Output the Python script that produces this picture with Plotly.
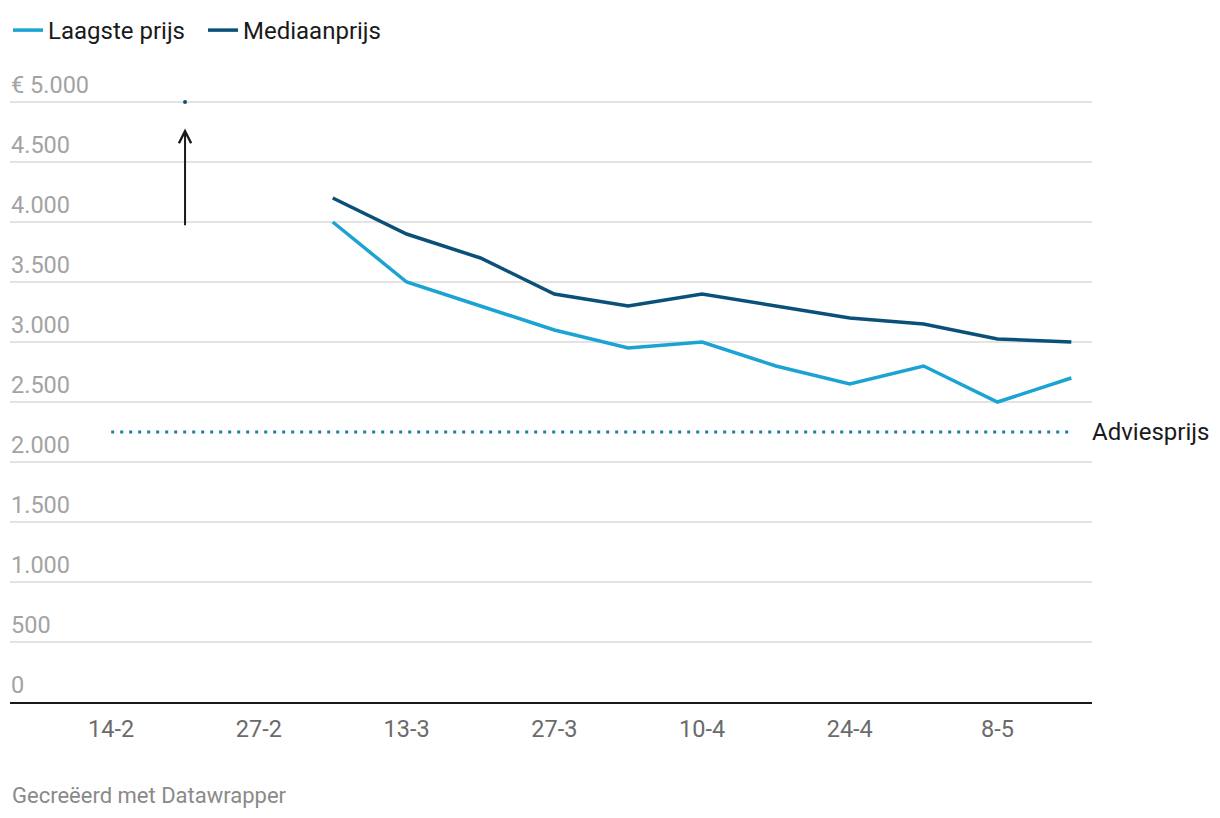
import plotly.graph_objects as go

# ---- data ----
weeks = ["14-2", "21-2", "27-2", "6-3", "13-3", "20-3", "27-3", "3-4",
         "10-4", "17-4", "24-4", "1-5", "8-5", "15-5"]
tick_weeks = ["14-2", "27-2", "13-3", "27-3", "10-4", "24-4", "8-5"]
laagste_prijs = [None, None, None, 4000, 3500, 3300, 3100, 2950, 3000, 2800, 2650, 2800, 2500, 2700]
mediaanprijs = [None, None, None, 4200, 3900, 3700, 3400, 3300, 3400, 3300, 3200, 3150, 3025, 3000]
offscale_week = ["21-2"]
offscale_median = [5000]
adviesprijs = 2250
arrow_from, arrow_to = 3960, 4780
y_ticks = [0, 500, 1000, 1500, 2000, 2500, 3000, 3500, 4000, 4500, 5000]
y_ticktext = ["0", "500", "1.000", "1.500", "2.000", "2.500", "3.000", "3.500", "4.000", "4.500", "€ 5.000"]

LIGHT = "#1ba3d3"
DARK = "#0a5079"
ADV = "#1a7fa8"
FONT = "Roboto"

fig = go.Figure()
fig.add_trace(go.Scatter(x=weeks, y=[adviesprijs] * len(weeks), mode="lines",
                         line=dict(color=ADV, width=3, dash="3px,6px"),
                         showlegend=False, hoverinfo="skip"))
fig.add_trace(go.Scatter(x=weeks, y=laagste_prijs, mode="lines", name="Laagste prijs",
                         line=dict(color=LIGHT, width=3.5)))
fig.add_trace(go.Scatter(x=weeks, y=mediaanprijs, mode="lines", name="Mediaanprijs",
                         line=dict(color=DARK, width=3.5)))
fig.add_trace(go.Scatter(x=offscale_week, y=offscale_median, mode="markers",
                         marker=dict(color=DARK, size=4), showlegend=False, cliponaxis=False))

fig.add_annotation(x=offscale_week[0], y=arrow_to, ax=offscale_week[0], ay=arrow_from,
                   xref="x", yref="y", axref="x", ayref="y", text="", showarrow=True,
                   arrowhead=5, arrowsize=1.2, arrowwidth=2, arrowcolor="#1a1a1a")
fig.add_annotation(x=1, y=adviesprijs, xref="paper", yref="y", text="Adviesprijs",
                   showarrow=False, xanchor="left", xshift=-2,
                   font=dict(family=FONT, size=24, color="#1a1a1a"))

# plot area: page x 10..1092, y 62..702 (page has an 8px body margin)
PLOT_TOP, PLOT_BOTTOM = 62, 702
Y_TOP = (PLOT_BOTTOM - PLOT_TOP) / 0.12
fig.add_annotation(x=0, y=-(795 - PLOT_BOTTOM) / (PLOT_BOTTOM - PLOT_TOP), xref="paper", yref="paper",
                   text="Gecreëerd met Datawrapper",
                   showarrow=False, xanchor="left", yanchor="middle",
                   font=dict(family=FONT, size=22, color="#8a8a8a"))

fig.update_layout(
    width=1212, height=810,
    margin=dict(l=2, r=128, t=PLOT_TOP - 8, b=116, autoexpand=False),
    paper_bgcolor="white", plot_bgcolor="white",
    font=dict(family=FONT, size=24, color="#1a1a1a"),
    showlegend=True,
    legend=dict(orientation="h", x=0, xref="container", xanchor="left",
                y=1, yref="container", yanchor="top",
                font=dict(family=FONT, size=24, color="#1a1a1a"),
                bgcolor="rgba(0,0,0,0)", entrywidth=150, entrywidthmode="pixels",
                tracegroupgap=0),
    xaxis=dict(type="category", range=[-1.37, 13.28], tickmode="array",
               tickvals=tick_weeks, ticktext=tick_weeks, showgrid=False,
               showline=True, linecolor="#1a1a1a", linewidth=2, ticks="",
               ticklabelstandoff=5,
               tickfont=dict(family=FONT, size=23.5, color="#6b6b6b"), zeroline=False),
    yaxis=dict(range=[0, Y_TOP], tickmode="array", tickvals=y_ticks, ticktext=y_ticktext,
               showgrid=True, gridcolor="#e3e3e3", gridwidth=1.5, zeroline=False,
               ticklabelposition="inside top", ticks="", ticklabelshift=-1,
               ticklabelstandoff=-2,
               tickfont=dict(family=FONT, size=23.5, color="#a3a3a3")),
)

fig.write_html("out.html")
